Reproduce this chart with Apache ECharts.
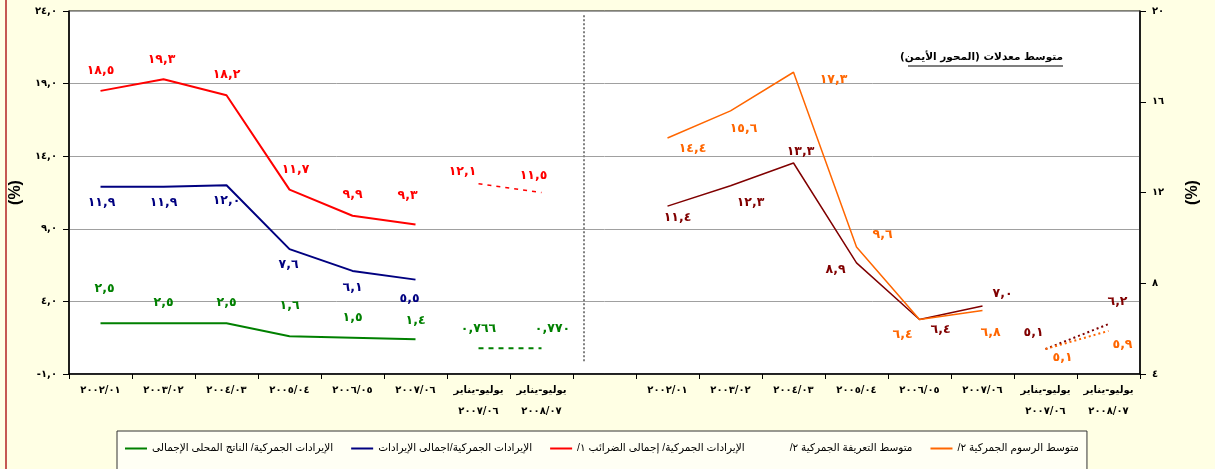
<!DOCTYPE html>
<html><head><meta charset="utf-8">
<script src="https://cdn.jsdelivr.net/npm/echarts@6/dist/echarts.min.js"></script>
<style>html,body{margin:0;padding:0;background:#FFFFE4}#c{width:1215px;height:469px}</style>
</head><body><div id="c"></div>
<script>
// ---- data ----
const periods = ['2002/01','2003/02','2004/03','2005/04','2006/05','2007/06'];
const halfPeriods = ['2007/06','2008/07'];
const halfLabel = 'يوليو-يناير';
const taxesShare = [18.5,19.3,18.2,11.7,9.9,9.3];
const taxesShareHalf = [12.1,11.5];
const revenueShare = [11.9,11.9,12.0,7.6,6.1,5.5];
const gdpShare = [2.5,2.5,2.5,1.6,1.5,1.4];
const gdpShareHalf = [0.766,0.770];
const tariffAvg = [11.4,12.3,13.3,8.9,6.4,7.0];
const tariffAvgHalf = [5.1,6.2];
const dutyAvg = [14.4,15.6,17.3,9.6,6.4,6.8];
const dutyAvgHalf = [5.1,5.9];
const names = {
  gdp: 'الإيرادات الجمركية/ الناتج المحلى الإجمالى',
  rev: 'الإيرادات الجمركية/اجمالى الإيرادات',
  tax: 'الإيرادات الجمركية/ إجمالى الضرائب ١/',
  tariff: 'متوسط التعريفة الجمركية ٢/',
  duty: 'متوسط الرسوم الجمركية ٢/'
};
const rightNote = 'متوسط معدلات (المحور الأيمن)';

// ---- label offsets (style only) ----
const offs = {
  tax: [[0,-20],[-2,-19],[0,-20],[6,-20],[0,-21],[-8,-29]],
  taxH: [[-16,-12],[-8,-17]],
  rev: [[1,16],[0,16],[0,16],[-1,16],[0,17],[-6,19]],
  gdp: [[4,-34],[0,-20],[0,-20],[0,-30],[0,-20],[0,-18]],
  gdpH: [[0,-20],[11,-20]],
  duty: [[25,11],[13,18],[40,7],[26,-12],[-17,15],[8,22]],
  dutyH: [[17,9],[14,14]],
  tariff: [[10,12],[20,17],[7,-11],[-21,7],[21,10],[20,-12]],
  tariffH: [[-12,-16],[9,-22]]
};

const AD = '٠١٢٣٤٥٦٧٨٩';
const ar = s => String(s).replace(/[0-9]/g, d => AD[+d]).replace(/\./g, ',');
const RLM = '\u200F';
const rtl = s => RLM + s + RLM;

const panelCats = periods.map(ar).concat(halfPeriods.map(p => rtl(halfLabel) + '\n' + ar(p)));
const categories = panelCats.concat(['']).concat(panelCats);
const N = categories.length;

function place(vals, start) {
  const a = new Array(N).fill(null);
  vals.forEach((v, i) => a[start + i] = v);
  return a;
}
const F = 'DejaVu Sans';
function mk(name, vals, start, color, width, ltype, yIdx, dec, offArr) {
  const arr = place(vals, start).map((v, i) => {
    if (v === null) return null;
    const o = offArr[i - start];
    return { value: v, label: { offset: o } };
  });
  return {
    type: 'line', name: name, data: arr, yAxisIndex: yIdx,
    symbol: 'circle', symbolSize: 2, showSymbol: true, connectNulls: false,
    itemStyle: { color: 'rgba(0,0,0,0)' },
    lineStyle: { color: color, width: width, type: ltype },
    label: { show: true, position: 'inside', color: color,
      fontFamily: F, fontWeight: 'bold', fontSize: 12.5,
      formatter: p => ar(p.value.toFixed(dec)) },
    emphasis: { disabled: true }, animation: false, z: 3
  };
}
const RED = '#FF0000', BLUE = '#000080', GREEN = '#008000', ORANGE = '#FF6600', DRED = '#800000';
const series = [
  mk(names.gdp, gdpShare, 0, GREEN, 2, 'solid', 0, 1, offs.gdp),
  mk(names.gdp, gdpShareHalf, 6, GREEN, 2, [5,5], 0, 3, offs.gdpH),
  mk(names.rev, revenueShare, 0, BLUE, 2, 'solid', 0, 1, offs.rev),
  mk(names.tax, taxesShare, 0, RED, 2, 'solid', 0, 1, offs.tax),
  mk(names.tax, taxesShareHalf, 6, RED, 1.5, [4,5], 0, 1, offs.taxH),
  mk(names.tariff, tariffAvg, 9, DRED, 1.5, 'solid', 1, 1, offs.tariff),
  mk(names.tariff, tariffAvgHalf, 15, DRED, 2, [2,3], 1, 1, offs.tariffH),
  mk(names.duty, dutyAvg, 9, ORANGE, 1.5, 'solid', 1, 1, offs.duty),
  mk(names.duty, dutyAvgHalf, 15, ORANGE, 2, [2,3], 1, 1, offs.dutyH),
  { type: 'line', data: [], xAxisIndex: 1, yAxisIndex: 0, silent: true,
    markLine: { silent: true, symbol: 'none', label: { show: false },
      lineStyle: { type: [2,2], color: '#808080', width: 2 },
      data: [[{ coord: [8.17, 23.7] }, { coord: [8.17, -0.2] }]] } }
];

const chart = echarts.init(document.getElementById('c'), null, { renderer: 'canvas' });
chart.setOption({
  animation: false,
  backgroundColor: '#FFFFE4',
  grid: { left: 68, right: 75, top: 11, bottom: 95, show: true, backgroundColor: '#FFFFFF',
    borderColor: '#000', borderWidth: 1 },
  xAxis: [{
    type: 'category', data: categories, boundaryGap: true,
    axisLine: { onZero: false, lineStyle: { color: '#000', width: 1.5 } },
    axisTick: { show: true, interval: 0, length: 5, lineStyle: { color: '#000' } },
    axisLabel: { interval: 0, color: '#000', fontFamily: F, fontWeight: 'bold', fontSize: 10,
      margin: 6, lineHeight: 21 },
    splitLine: { show: false }
  }, { type: 'value', min: 0, max: N, show: false }],
  yAxis: [{
    type: 'value', min: -1, max: 24, interval: 5, position: 'left',
    name: '(%)', nameLocation: 'middle', nameGap: 40, nameRotate: 90,
    nameTextStyle: { fontFamily: 'Liberation Sans', fontWeight: 'bold', fontSize: 16, color: '#000' },
    axisLine: { show: true, lineStyle: { color: '#000', width: 1.5 } },
    axisTick: { show: true, length: 6, lineStyle: { color: '#000' } },
    axisLabel: { color: '#000', fontFamily: F, fontWeight: 'bold', fontSize: 10, margin: 12,
      formatter: v => ar(v.toFixed(1)) },
    splitLine: { show: true, lineStyle: { color: '#A0A0A0', width: 1 } }
  }, {
    type: 'value', min: 4, max: 20, interval: 4, position: 'right',
    name: '(%)', nameLocation: 'middle', nameGap: 45, nameRotate: 90,
    nameTextStyle: { fontFamily: 'Liberation Sans', fontWeight: 'bold', fontSize: 16, color: '#000' },
    axisLine: { show: true, lineStyle: { color: '#000', width: 1.5 } },
    axisTick: { show: true, length: 6, lineStyle: { color: '#000' } },
    axisLabel: { color: '#000', fontFamily: F, fontWeight: 'bold', fontSize: 10, margin: 12,
      formatter: v => ar(v) },
    splitLine: { show: false }
  }],
  legend: {
    left: 117, top: 431, padding: [12, 8, 30, 8], itemGap: 18,
    borderColor: '#333', borderWidth: 1, backgroundColor: '#FFFFF4',
    itemWidth: 22, itemHeight: 2,
    textStyle: { fontFamily: 'Liberation Sans, DejaVu Sans', fontSize: 10.5, color: '#000' },
    data: [
      { name: names.gdp, icon: 'rect', itemStyle: { color: GREEN } },
      { name: names.rev, icon: 'rect', itemStyle: { color: BLUE } },
      { name: names.tax, icon: 'rect', itemStyle: { color: RED } },
      { name: names.tariff, icon: 'rect', itemStyle: { color: 'rgba(0,0,0,0)' } },
      { name: names.duty, icon: 'rect', itemStyle: { color: ORANGE } }
    ],
    formatter: n => rtl(n)
  },
  graphic: [
    { type: 'line', shape: { x1: 6, y1: 0, x2: 6, y2: 469 }, style: { stroke: '#B22222', lineWidth: 1.5 } },
    { type: 'text', x: 1063, y: 57, style: { text: rtl(rightNote), fill: '#000',
      font: 'bold 10.5px "DejaVu Sans"', textAlign: 'right', textVerticalAlign: 'middle' } },
    { type: 'line', shape: { x1: 908, y1: 66, x2: 1063, y2: 66 }, style: { stroke: '#000', lineWidth: 1.2 } }
  ],
  series: series
});
</script></body></html>
